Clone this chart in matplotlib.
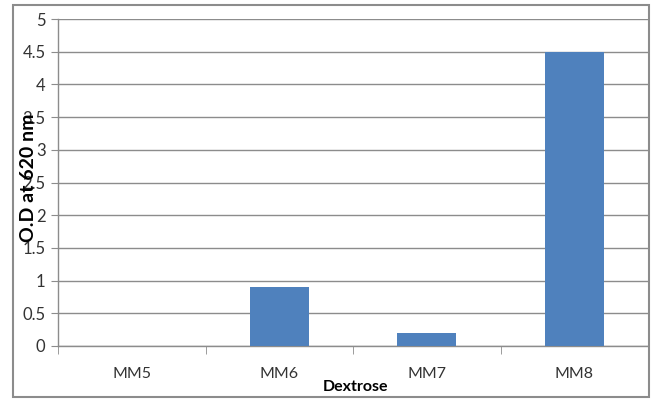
import matplotlib
matplotlib.use("Agg")
import matplotlib.pyplot as plt
from matplotlib.patches import Rectangle
import numpy as np

categories = ["MM5", "MM6", "MM7", "MM8"]
values = [0.0, 0.9, 0.2, 4.5]
yticks = [0, 0.5, 1, 1.5, 2, 2.5, 3, 3.5, 4, 4.5, 5]
ytick_labels = ["0", "0.5", "1", "1.5", "2", "2.5", "3", "3.5", "4", "4.5", "5"]

plt.rcParams['font.family'] = ['Lato', 'DejaVu Sans']

fig = plt.figure(figsize=(6.54, 4.01), dpi=100)
W, H = 654, 401
ax = fig.add_axes([58 / W, 1 - 346 / H, (648 - 58) / W, (346 - 19) / H])

x = np.arange(len(categories))
ax.bar(x, values, width=0.4, color="#4F81BD", zorder=3)

ax.set_xlim(-0.5, len(categories) - 0.5)
ax.set_ylim(0, 5)
ax.set_yticks(yticks)
ax.set_yticklabels(ytick_labels, fontsize=12, color="#333333")
ax.yaxis.grid(True, color="#8c8c8c", linewidth=1.0, zorder=0)

ax.set_xticks(x)
ax.set_xticklabels(categories, fontsize=11.5, color="#333333")
ax.tick_params(axis="x", which="major", length=0, pad=15)
ax.set_xticks(np.arange(-0.5, len(categories), 1), minor=True)
ax.tick_params(axis="x", which="minor", length=6, color="#8c8c8c", direction="out")
ax.tick_params(axis="y", length=5, color="#8c8c8c", direction="out", pad=4)

for s in ["top", "right"]:
    ax.spines[s].set_visible(False)
for s in ["left", "bottom"]:
    ax.spines[s].set_color("#8c8c8c")
    ax.spines[s].set_linewidth(1.0)

fig.text(28 / W, 1 - 178 / H, "O.D at 620 nm", rotation=90, ha="center", va="center",
         fontsize=14, fontweight="bold", color="black")
fig.text(355 / W, 1 - 387 / H, "Dextrose", ha="center", va="center",
         fontsize=11.5, fontweight="bold", color="black")

fig.patches.append(Rectangle((13 / W, 1 - 397 / H), (649 - 13) / W, (397 - 5) / H,
                             transform=fig.transFigure, fill=False,
                             edgecolor="#8c8c8c", linewidth=1.5))

fig.savefig("out.png", dpi=100)
